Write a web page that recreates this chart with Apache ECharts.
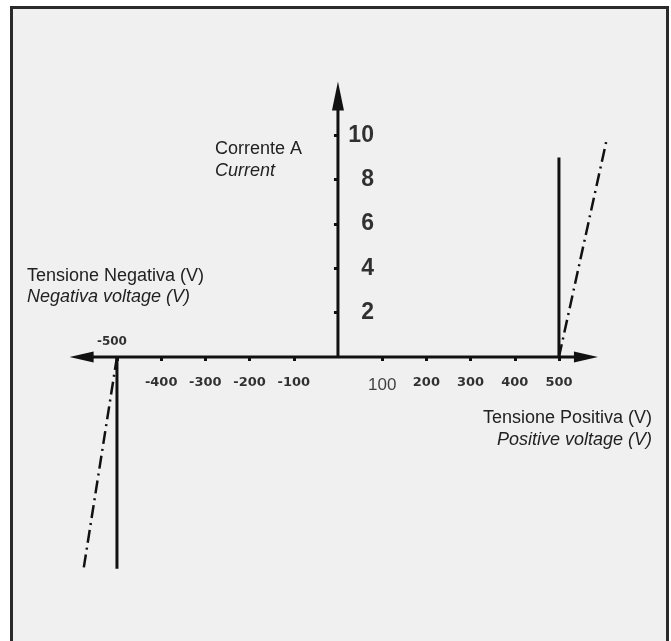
<!DOCTYPE html>
<html>
<head>
<meta charset="utf-8">
<script src="https://cdn.jsdelivr.net/npm/echarts@6/dist/echarts.min.js"></script>
<style>
  html, body { margin: 0; padding: 0; background: #fff; }
  #chart { width: 671px; height: 641px; }
</style>
</head>
<body>
<div id="chart"></div>
<script>
// characteristic curves (volt, ampere)
const posVertical = [[500, 0], [500, 9.0]]
const posSlope = [[500, 0], [609, 9.9]]
const negVertical = [[-500, 0], [-500, -9.55]]
const negSlope = [[-500, 0], [-575, -9.5]]

// axes
const xAxisLine = [[-580, 0], [561, 0]]
const yAxisLine = [[0, 0], [0, 11.78]]
const xTickValues = [-500, -400, -300, -200, -100, 100, 200, 300, 400, 500]
const xLabelValues = [-400, -300, -200, -100, 100, 200, 300, 400, 500]
const xLabelAbove = [-500]
const yTickValues = [2, 4, 6, 8, 10]

const ink = '#111'

const chart = echarts.init(document.getElementById('chart'))

chart.setOption({
  backgroundColor: '#ffffff',
  animation: false,
  graphic: [
    {
      type: 'rect',
      z: -10,
      shape: { x: 11.5, y: 7.5, width: 656, height: 700 },
      style: { fill: '#f0f0f0', stroke: '#2a2a2a', lineWidth: 3 }
    },
    { type: 'text', x: 215, y: 149, style: { text: 'Corrente A', font: '18px "Liberation Sans"', fill: '#222', verticalAlign: 'middle' } },
    { type: 'text', x: 215, y: 171, style: { text: 'Current', font: 'italic 18px "Liberation Sans"', fill: '#222', verticalAlign: 'middle' } },
    { type: 'text', x: 27, y: 276, style: { text: 'Tensione Negativa (V)', font: '18px "Liberation Sans"', fill: '#222', verticalAlign: 'middle' } },
    { type: 'text', x: 27, y: 297, style: { text: 'Negativa voltage (V)', font: 'italic 18px "Liberation Sans"', fill: '#222', verticalAlign: 'middle' } },
    { type: 'text', x: 652, y: 418, style: { text: 'Tensione Positiva (V)', font: '18px "Liberation Sans"', fill: '#222', align: 'right', verticalAlign: 'middle' } },
    { type: 'text', x: 652, y: 440, style: { text: 'Positive voltage (V)', font: 'italic 18px "Liberation Sans"', fill: '#222', align: 'right', verticalAlign: 'middle' } }
  ],
  grid: { left: 81.6, width: 532.6, top: 80, height: 498.6, containLabel: false },
  xAxis: {
    type: 'value',
    min: -580,
    max: 625,
    splitLine: { show: false },
    axisLine: { show: false, onZero: true },
    axisTick: { customValues: xTickValues, length: 4, lineStyle: { color: ink, width: 3 } },
    axisLabel: { show: false }
  },
  yAxis: {
    type: 'value',
    min: -10,
    max: 12.5,
    splitLine: { show: false },
    axisLine: { show: false, onZero: true },
    axisTick: { customValues: yTickValues, length: 4, lineStyle: { color: ink, width: 3 } },
    axisLabel: { show: false }
  },
  series: [
    {
      // x axis with arrows at both ends
      type: 'line',
      data: xAxisLine.map((p, i) => ({
        value: p,
        symbol: 'triangle',
        symbolSize: [11, 24],
        symbolRotate: i === 0 ? 90 : -90
      })),
      lineStyle: { color: ink, width: 3 },
      itemStyle: { color: ink }
    },
    {
      // y axis, arrow on top
      type: 'line',
      data: yAxisLine.map((p, i) => i === 0
        ? { value: p, symbol: 'none' }
        : { value: p, symbol: 'triangle', symbolSize: [12, 29] }),
      lineStyle: { color: ink, width: 3 },
      itemStyle: { color: ink }
    },
    {
      type: 'line',
      data: posVertical,
      symbol: 'none',
      lineStyle: { color: ink, width: 3 }
    },
    {
      type: 'line',
      data: posSlope,
      symbol: 'none',
      lineStyle: { color: ink, width: 2.5, type: [13, 5, 2, 5] }
    },
    {
      type: 'line',
      data: negVertical,
      symbol: 'none',
      lineStyle: { color: ink, width: 3 }
    },
    {
      type: 'line',
      data: negSlope,
      symbol: 'none',
      lineStyle: { color: ink, width: 2.5, type: [13, 5, 2, 5] }
    },
    {
      // x tick labels under the axis
      type: 'scatter',
      data: xLabelValues.map(v => [v, 0]),
      symbolSize: 1,
      itemStyle: { color: 'rgba(0,0,0,0)' },
      label: {
        show: true,
        position: 'bottom',
        distance: 19,
        formatter: p => p.value[0] === 100 ? '{r|100}' : '{b|' + p.value[0] + '}',
        rich: {
          r: { fontSize: 17, fontFamily: 'Liberation Sans', color: '#111' },
          b: { fontSize: 13, fontWeight: 'bold', fontFamily: 'DejaVu Sans', color: '#000' }
        }
      }
    },
    {
      // the -500 label sits above the axis
      type: 'scatter',
      data: xLabelAbove.map(v => [v, 0]),
      symbolSize: 1,
      itemStyle: { color: 'rgba(0,0,0,0)' },
      label: {
        show: true,
        position: 'top',
        distance: 9,
        offset: [-5, 0],
        formatter: p => String(p.value[0]),
        fontSize: 12,
        fontWeight: 'bold',
        fontFamily: 'DejaVu Sans',
        color: '#000'
      }
    },
    {
      // y tick labels right of the axis
      type: 'scatter',
      data: yTickValues.map(v => [0, v]),
      symbolSize: 1,
      itemStyle: { color: 'rgba(0,0,0,0)' },
      label: {
        show: true,
        position: 'inside',
        offset: [36, 0],
        align: 'right',
        formatter: p => String(p.value[1]),
        fontSize: 23,
        fontWeight: 'bold',
        fontFamily: 'Liberation Sans',
        color: '#000'
      }
    }
  ]
})
</script>
</body>
</html>
